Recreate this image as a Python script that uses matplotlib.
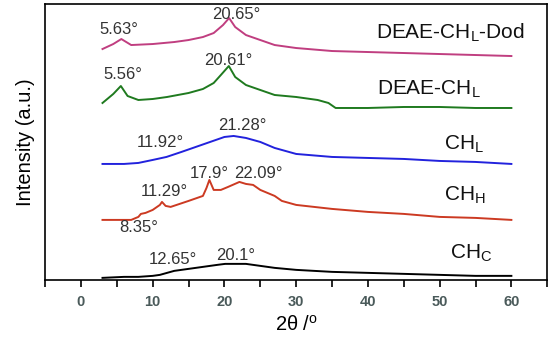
import matplotlib.pyplot as plt
from matplotlib.ticker import MultipleLocator

plt.rcParams['font.family'] = ['Liberation Sans', 'DejaVu Sans']

# two-theta positions and intensities (a.u., offset stacked)
x_c = [3, 6, 8, 10, 11, 12, 13, 15, 17, 19, 20.1, 22, 23, 25, 27, 30, 35, 40, 45, 50, 55, 60]
y_c = [2, 3, 3, 4, 5, 7, 9, 11, 13, 15, 16, 16, 16, 14, 12, 10, 8, 7, 6, 5, 4, 4]

x_h = [3, 5, 7, 8, 8.35, 9, 10, 11, 11.29, 11.8, 12.5, 15, 17, 17.5, 17.9, 18.5, 19.5, 20.5, 22.09, 23, 24, 25, 27, 28, 30, 35, 40, 45, 50, 55, 60]
y_h = [60, 60, 60, 63, 66, 67, 70, 75, 78, 74, 73, 79, 84, 92, 100, 90, 90, 93, 98, 96, 95, 90, 84, 79, 75, 71, 68, 66, 63, 62, 60]

x_l = [3, 6, 8, 10, 11.92, 14, 16, 18, 20, 21.28, 23, 25, 27, 30, 35, 40, 45, 50, 55, 60]
y_l = [116, 116, 117, 120, 123, 128, 133, 138, 143, 144, 142, 138, 132, 126, 123, 122, 121, 119, 118, 116]

x_g = [3, 4.5, 5.56, 6.5, 8, 10, 12, 15, 17, 18.5, 19.5, 20.61, 21.5, 23, 25, 27, 30, 33, 34.5, 35.5, 40, 45, 50, 55, 60]
y_g = [177, 186, 194, 184, 180, 181, 183, 187, 191, 197, 205, 214, 203, 195, 190, 185, 183, 180, 177, 172, 172, 173, 173, 172, 172]

x_d = [3, 4.5, 5.63, 7, 10, 13, 15, 17, 18.5, 19.8, 20.65, 21.5, 23, 25, 27, 30, 35, 40, 45, 50, 55, 60]
y_d = [231, 236, 241, 235, 236, 238, 240, 243, 247, 255, 262, 253, 245, 240, 235, 232, 229, 228, 227, 226, 225, 224]

series = [
    (x_d, y_d, '#c03e80'),
    (x_g, y_g, '#1f7a1f'),
    (x_l, y_l, '#2222dd'),
    (x_h, y_h, '#cc3a22'),
    (x_c, y_c, 'black'),
]

# peak annotations: (text, x, y)
peaks = [
    ('5.63°', 5.3, 251), ('20.65°', 21.6, 266),
    ('5.56°', 5.9, 206), ('20.61°', 20.5, 220),
    ('11.92°', 11.0, 137), ('21.28°', 22.5, 154),
    ('17.9°', 17.9, 106), ('22.09°', 24.7, 106),
    ('11.29°', 11.6, 88), ('8.35°', 8.1, 52),
    ('12.65°', 12.8, 20), ('20.1°', 21.6, 24),
]

names = [
    ('DEAE-CH$_\\mathregular{L}$-Dod', 41.1, 247),
    ('DEAE-CH$_\\mathregular{L}$', 41.3, 191),
    ('CH$_\\mathregular{L}$', 50.6, 136),
    ('CH$_\\mathregular{H}$', 50.6, 85),
    ('CH$_\\mathregular{C}$', 51.5, 27),
]

fig = plt.figure(figsize=(5.5, 3.38), dpi=100)
ax = fig.add_axes([0.082, 0.172, 0.913, 0.816])

for xs, ys, c in series:
    ax.plot(xs, ys, color=c, lw=1.4)

for t, px, py in peaks:
    ax.text(px, py, t, ha='center', va='center', fontsize=12, color='#333333')

for t, px, py in names:
    ax.text(px, py, t, ha='left', va='center', fontsize=15, color='#111111')

ax.set_xlim(-5, 65)
ax.set_ylim(0, 276)
ax.xaxis.set_major_locator(MultipleLocator(10))
ax.xaxis.set_minor_locator(MultipleLocator(5))
ax.tick_params(axis='x', which='both', direction='out', length=5, width=1.2)
ax.tick_params(axis='x', which='major', labelsize=10.5, labelcolor='#4a5a5a', pad=6)
for lab in ax.get_xticklabels():
    lab.set_fontweight('bold')
ax.set_yticks([])
for s in ax.spines.values():
    s.set_linewidth(1.2)
ax.set_xlabel('2θ /$^\\mathregular{o}$', fontsize=14.5, labelpad=4)
ax.set_ylabel('Intensity (a.u.)', fontsize=14.5, labelpad=7)

fig.savefig('out.png', dpi=100)
